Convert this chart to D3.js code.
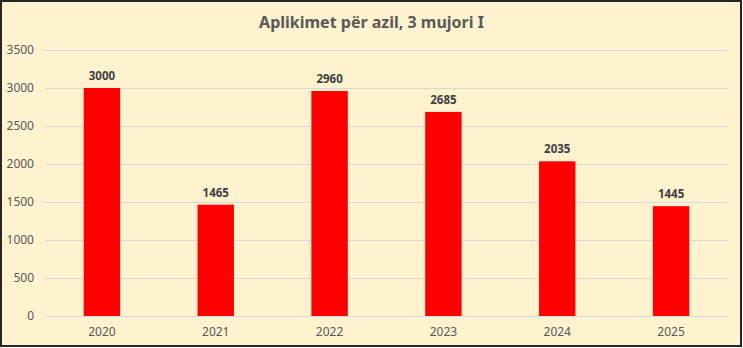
<!DOCTYPE html>
<html>
<head>
<meta charset="utf-8">
<script src="https://cdn.jsdelivr.net/npm/d3@7"></script>
<style>
  body { margin: 0; background: #fff; }
  text { font-family: "Noto Sans", "Open Sans", sans-serif; }
</style>
</head>
<body>
<div id="chart"></div>
<script>
var years = ["2020", "2021", "2022", "2023", "2024", "2025"];
var applications = [3000, 1465, 2960, 2685, 2035, 1445];
var yTicks = [0, 500, 1000, 1500, 2000, 2500, 3000, 3500];
var title = "Aplikimet për azil, 3 mujori I";

var width = 743,
    height = 348,
    margin = { left: 45, top: 50, right: 15, bottom: 32 };

var svg = d3.select("#chart").append("svg")
    .attr("width", width)
    .attr("height", height);

// frame
svg.append("rect")
    .attr("x", 1).attr("y", 1)
    .attr("width", width - 3).attr("height", height - 3)
    .attr("fill", "#fef2cf")
    .attr("stroke", "#262626")
    .attr("stroke-width", 2);

var x = d3.scaleBand()
    .domain(years)
    .range([margin.left, width - margin.right])
    .paddingInner(0.68)
    .paddingOuter(0.34);

var y = d3.scaleLinear()
    .domain([0, 3500])
    .range([height - margin.bottom, margin.top]);

// gridlines
svg.append("g").selectAll("line")
    .data(yTicks)
    .join("line")
    .attr("x1", margin.left)
    .attr("x2", width - margin.right)
    .attr("y1", function(d) { return Math.round(y(d)) + 0.5; })
    .attr("y2", function(d) { return Math.round(y(d)) + 0.5; })
    .attr("stroke", "#d9d9d9")
    .attr("stroke-width", 1);

// y labels
svg.append("g").selectAll("text")
    .data(yTicks)
    .join("text")
    .attr("x", 34)
    .attr("y", function(d) { return y(d); })
    .attr("dy", "0.35em")
    .attr("text-anchor", "end")
    .attr("font-size", 12)
    .attr("fill", "#595959")
    .text(function(d) { return d; });

// bars
svg.append("g").selectAll("rect")
    .data(applications)
    .join("rect")
    .attr("x", function(d, i) { return x(years[i]); })
    .attr("y", function(d) { return y(d); })
    .attr("width", x.bandwidth())
    .attr("height", function(d) { return y(0) - y(d); })
    .attr("fill", "#ff0000");

// value labels
svg.append("g").selectAll("text")
    .data(applications)
    .join("text")
    .attr("x", function(d, i) { return x(years[i]) + x.bandwidth() / 2; })
    .attr("y", function(d) { return y(d) - 8; })
    .attr("text-anchor", "middle")
    .attr("font-size", 11.5)
    .attr("font-weight", "bold")
    .attr("fill", "#404040")
    .text(function(d) { return d; });

// x labels
svg.append("g").selectAll("text")
    .data(years)
    .join("text")
    .attr("x", function(d) { return x(d) + x.bandwidth() / 2; })
    .attr("y", height - margin.bottom + 20)
    .attr("text-anchor", "middle")
    .attr("font-size", 12)
    .attr("fill", "#595959")
    .text(function(d) { return d; });

// title
svg.append("text")
    .attr("x", width / 2)
    .attr("y", 28)
    .attr("text-anchor", "middle")
    .attr("font-size", 16)
    .attr("font-weight", "bold")
    .attr("fill", "#595959")
    .text(title);
</script>
</body>
</html>
